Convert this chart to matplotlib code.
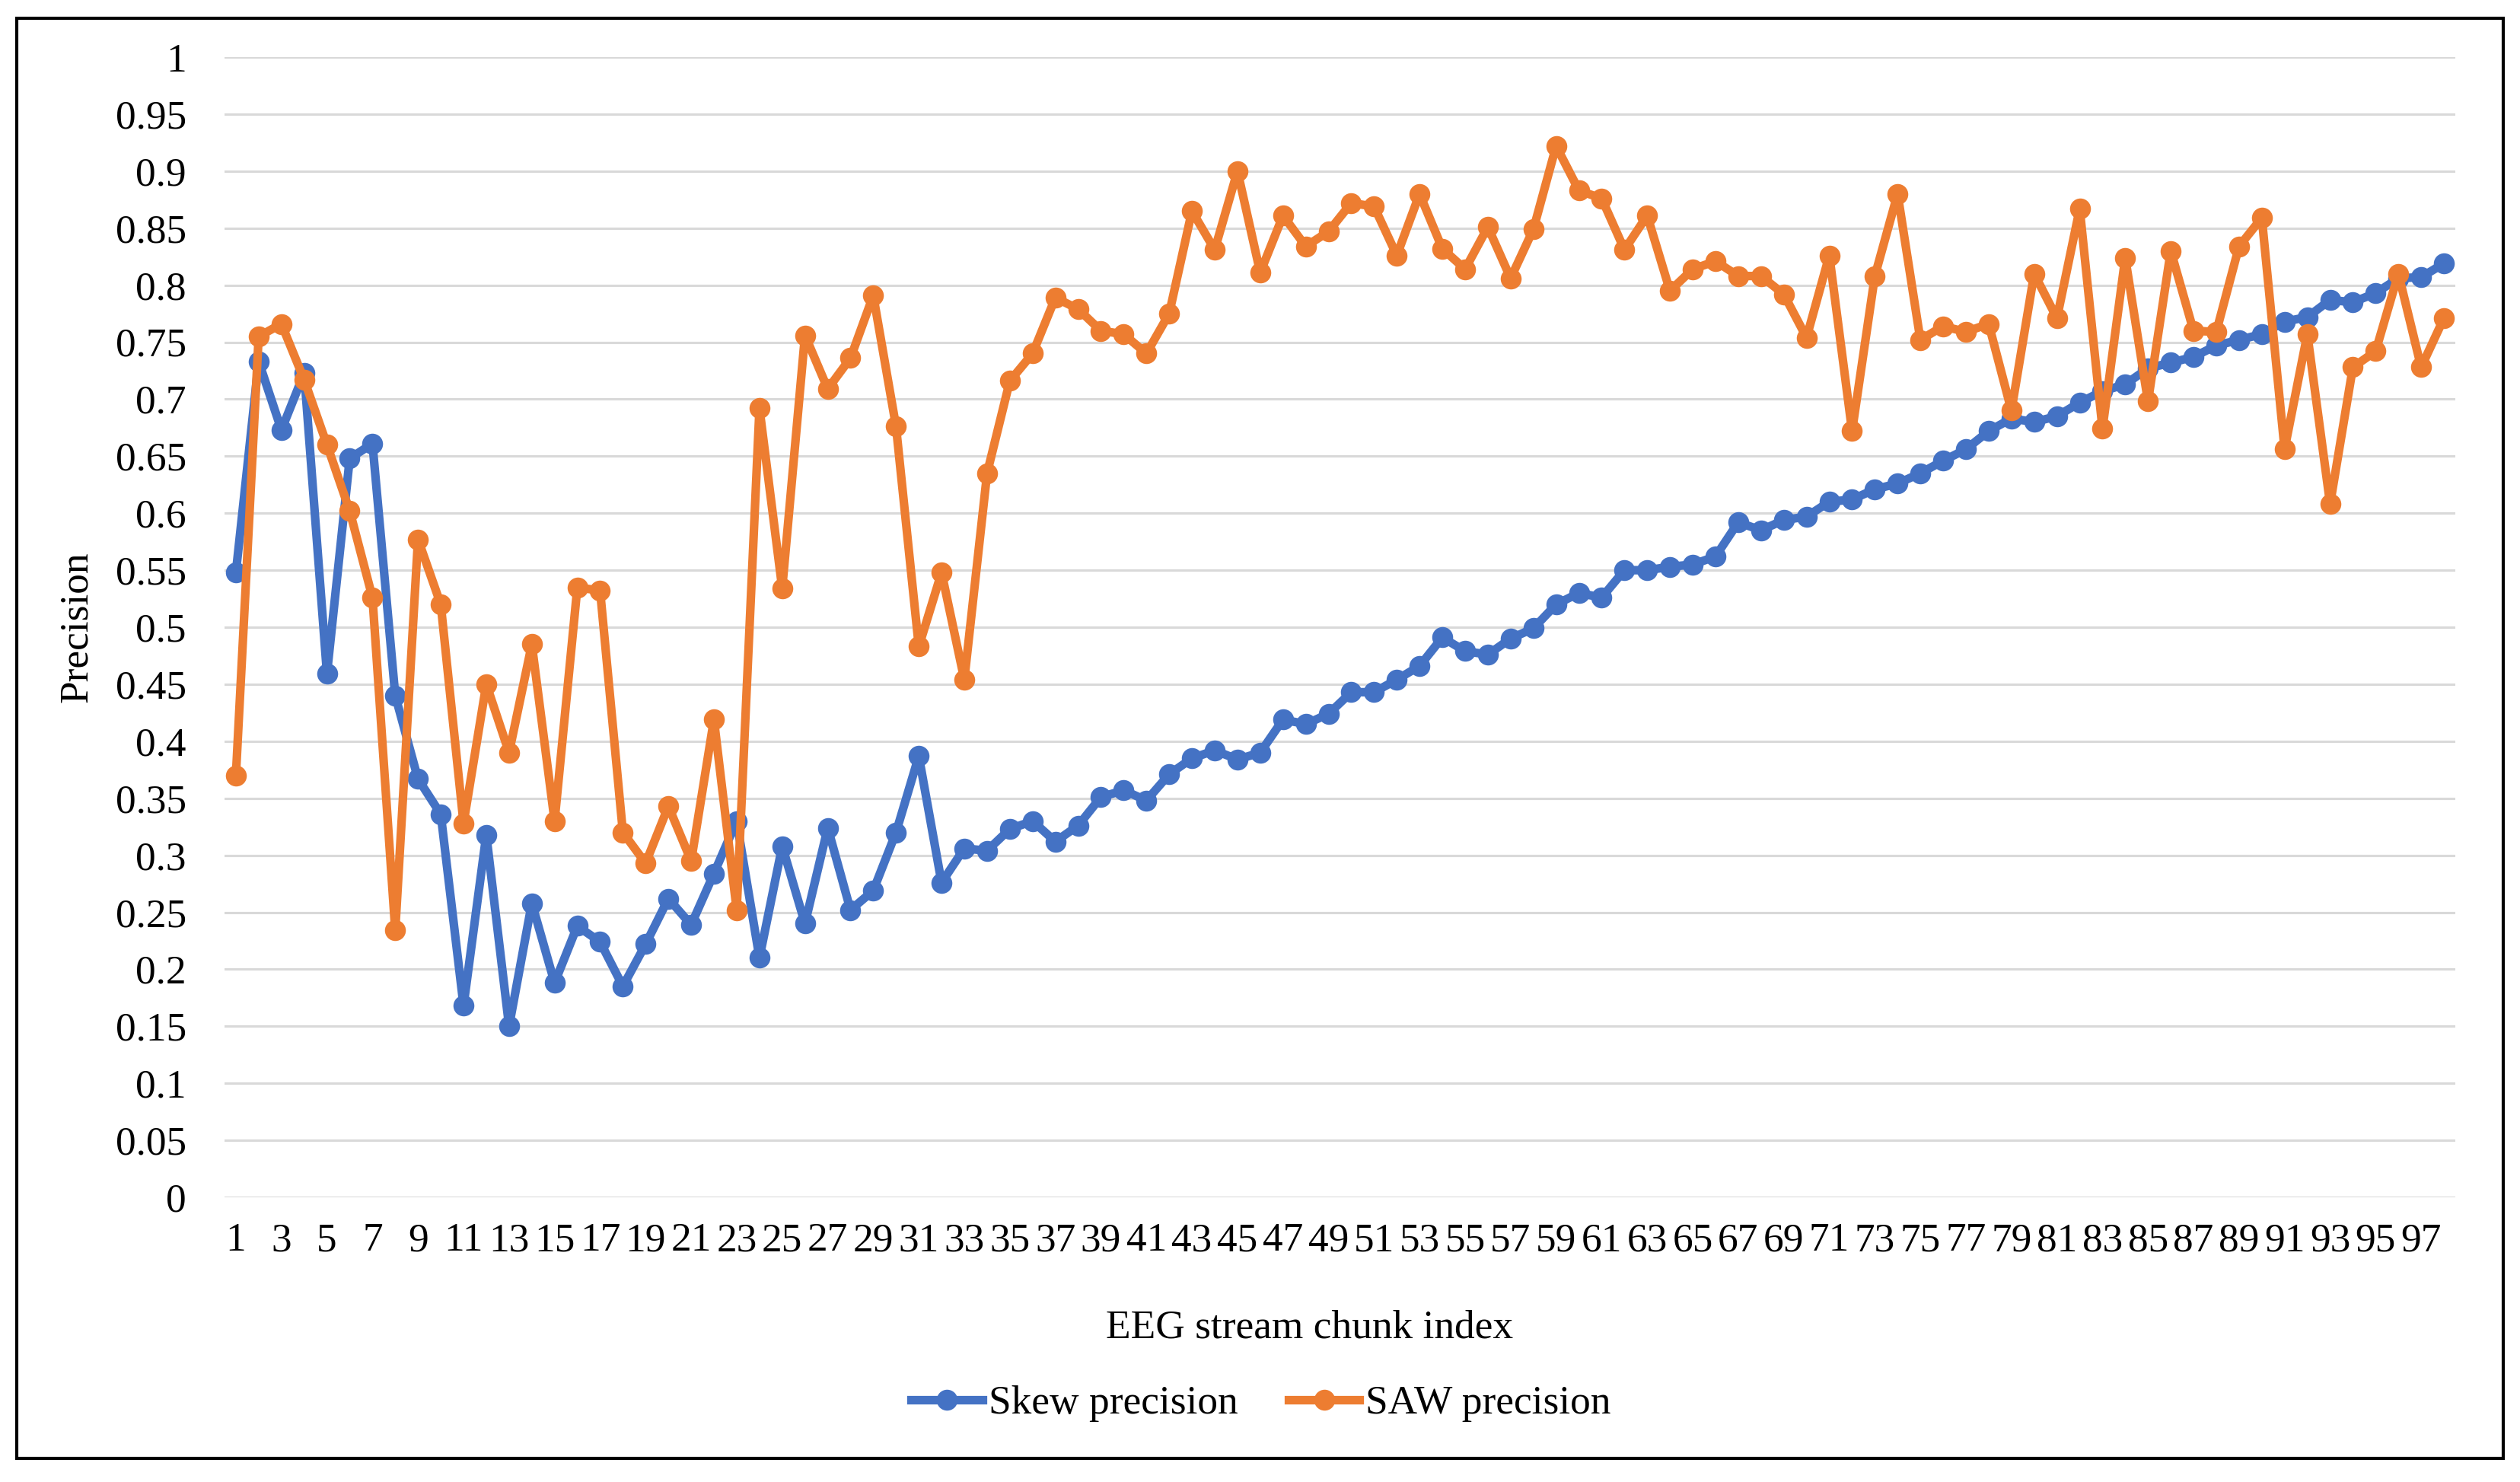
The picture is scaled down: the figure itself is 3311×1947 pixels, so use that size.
"""Skew vs SAW precision across EEG stream chunks."""

import matplotlib as mpl
import matplotlib.pyplot as plt
import numpy as np
from matplotlib.patches import Rectangle
from matplotlib.ticker import FuncFormatter, MultipleLocator

chunk_index = list(range(1, 99))

skew_precision = [
    0.548, 0.733, 0.673, 0.723, 0.459, 0.648, 0.661, 0.440, 0.367, 0.336,
    0.168, 0.318, 0.150, 0.258, 0.188, 0.238, 0.224, 0.185, 0.222, 0.262,
    0.239, 0.284, 0.330, 0.210, 0.308, 0.240, 0.324, 0.252, 0.269, 0.320,
    0.387, 0.276, 0.306, 0.304, 0.323, 0.330, 0.312, 0.326, 0.351, 0.357,
    0.348, 0.371, 0.385, 0.392, 0.384, 0.390, 0.419, 0.415, 0.424, 0.443,
    0.443, 0.454, 0.466, 0.491, 0.479, 0.476, 0.490, 0.499, 0.520, 0.530,
    0.526, 0.550, 0.550, 0.553, 0.555, 0.562, 0.592, 0.585, 0.594, 0.597,
    0.610, 0.612, 0.621, 0.626, 0.635, 0.646, 0.656, 0.672, 0.683, 0.680,
    0.685, 0.697, 0.707, 0.713, 0.727, 0.732, 0.737, 0.747, 0.752, 0.757,
    0.768, 0.772, 0.787, 0.785, 0.793, 0.806, 0.807, 0.819,
]

saw_precision = [
    0.370, 0.755, 0.766, 0.717, 0.660, 0.602, 0.526, 0.234, 0.577, 0.520,
    0.328, 0.450, 0.390, 0.485, 0.330, 0.535, 0.532, 0.320, 0.293, 0.343,
    0.295, 0.419, 0.252, 0.692, 0.534, 0.756, 0.709, 0.736, 0.791, 0.676,
    0.483, 0.548, 0.454, 0.635, 0.716, 0.740, 0.789, 0.779, 0.760, 0.757,
    0.740, 0.775, 0.865, 0.831, 0.900, 0.811, 0.861, 0.834, 0.847, 0.872,
    0.869, 0.826, 0.880, 0.832, 0.814, 0.851, 0.806, 0.849, 0.922, 0.883,
    0.876, 0.831, 0.861, 0.795, 0.814, 0.821, 0.808, 0.808, 0.792, 0.754,
    0.826, 0.672, 0.808, 0.880, 0.752, 0.764, 0.759, 0.766, 0.690, 0.810,
    0.771, 0.867, 0.674, 0.824, 0.698, 0.830, 0.760, 0.759, 0.834, 0.859,
    0.656, 0.757, 0.608, 0.728, 0.742, 0.810, 0.728, 0.771,
]

series_labels = ["Skew precision", "SAW precision"]


def set_style() -> None:
    mpl.rcParams.update(
        {
            "font.family": ["Liberation Serif", "DejaVu Serif"],
            "font.size": 12.8,
            "axes.linewidth": 0.8,
        }
    )


def main() -> None:
    set_style()
    W, H = 3312, 1947
    fig = plt.figure(figsize=(W / 300, H / 300), dpi=300)
    ax = fig.add_axes([295 / W, 1 - 1573 / H, (3226 - 295) / W, (1573 - 75) / H])

    x = np.array(chunk_index)
    ax.plot(x, skew_precision, color="#4472C4", linewidth=2.7, marker="o",
            markersize=5.6, label=series_labels[0], solid_joinstyle="round")
    ax.plot(x, saw_precision, color="#ED7D31", linewidth=2.7, marker="o",
            markersize=5.6, label=series_labels[1], solid_joinstyle="round")

    ax.set_xlim(0.5, 98.5)
    ax.set_ylim(0, 1)
    ax.yaxis.set_major_locator(MultipleLocator(0.05))
    ax.yaxis.set_major_formatter(FuncFormatter(lambda v, _: f"{round(v, 2):g}"))
    ax.set_xticks(x[::2])
    ax.set_xticklabels([str(v) for v in x[::2]])
    ax.tick_params(axis="both", length=0)
    ax.tick_params(axis="y", pad=12)
    ax.tick_params(axis="x", pad=8)

    ax.grid(axis="y", color="#D9D9D9", linewidth=0.75)
    ax.set_axisbelow(True)
    for side in ["top", "right", "left", "bottom"]:
        ax.spines[side].set_visible(False)

    fig.text(1721 / W, 1 - 1745 / H, "EEG stream chunk index", ha="center", va="center")
    fig.text(101 / W, 1 - 824 / H, "Precision", ha="center", va="center", rotation=90)

    fig.legend(
        loc="center",
        bbox_to_anchor=(1657 / W, 1 - 1844 / H),
        ncol=2,
        frameon=False,
        handlelength=1.75,
        handletextpad=0.15,
        columnspacing=1.25,
    )

    fig.patches.append(
        Rectangle((22 / W, 1 - 1916 / H), (3289 - 22) / W, (1916 - 24) / H,
                  transform=fig.transFigure, fill=False, edgecolor="black", linewidth=1.0)
    )

    fig.savefig("out.png", dpi=300)
    plt.close(fig)


if __name__ == "__main__":
    main()
